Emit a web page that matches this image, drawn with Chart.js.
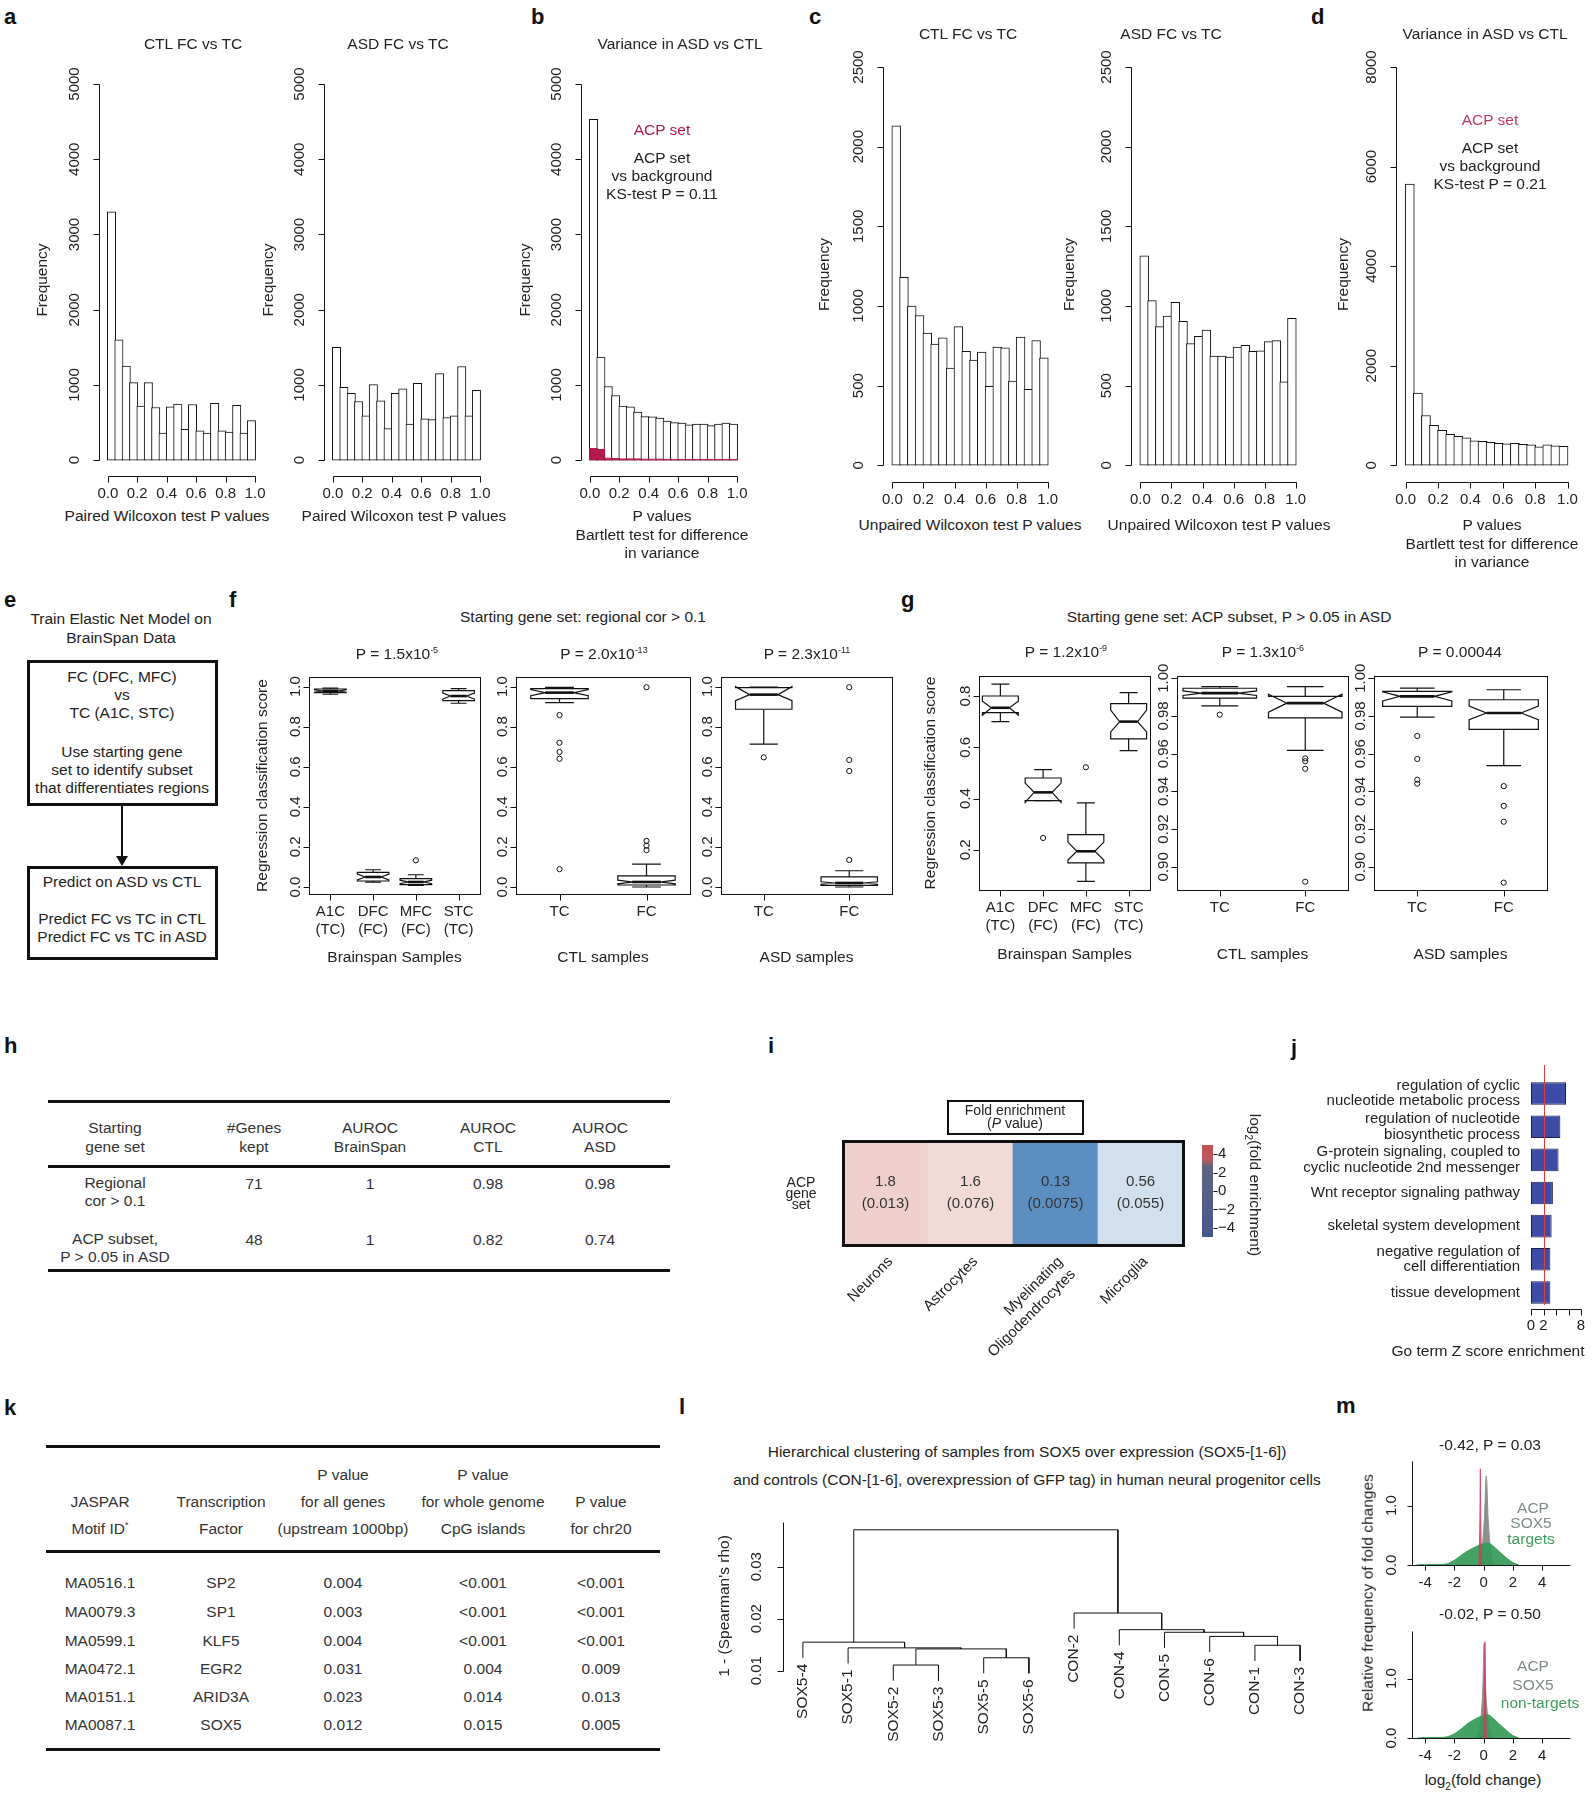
<!DOCTYPE html>
<html lang="en">
<head>
<meta charset="UTF-8">
<meta name="viewport" content="width=device-width, initial-scale=1.0">
<title>ACP gene set analyses</title>
<script src="https://cdn.jsdelivr.net/npm/chart.js"></script>
<style>
  body { margin: 0; background: #fff; }
  #fig { position: relative; width: 1596px; height: 1800px; overflow: hidden;
         font-family: "Liberation Sans", Arial, sans-serif; font-size: 15.5px; color: #222; }
  #fig canvas { position: absolute; }
  .t { position: absolute; white-space: nowrap; transform: translate(-50%, -50%); text-align: center; line-height: 1.2; }
  .lt { position: absolute; font-weight: bold; font-size: 22px; color: #111; transform: translateY(-50%); }
  .box { position: absolute; border: 3px solid #111; box-sizing: border-box; }
  .rule { position: absolute; background: #111; }
  sup { font-size: 9px; vertical-align: 6px; line-height: 0; }
</style>
</head>
<body>
<div id="fig"></div>
<script>
// ---------- values ----------
// a-d: P value histograms, 20 bins of width 0.05
const pBinMids = [0.025, 0.075, 0.125, 0.175, 0.225, 0.275, 0.325, 0.375, 0.425, 0.475,
                  0.525, 0.575, 0.625, 0.675, 0.725, 0.775, 0.825, 0.875, 0.925, 0.975];
const pTicks = [0, 0.2, 0.4, 0.6, 0.8, 1.0];
const aCtlCounts = [3300, 1600, 1250, 1030, 720, 1030, 700, 360, 710, 745, 410, 740, 390, 360, 755, 390, 375, 730, 360, 525];
const aAsdCounts = [1500, 970, 890, 780, 590, 1005, 790, 420, 890, 950, 480, 1020, 550, 540, 1150, 565, 590, 1245, 590, 930];
const bAllCounts = [4530, 1370, 980, 860, 720, 710, 640, 580, 575, 560, 520, 500, 495, 470, 480, 480, 460, 480, 495, 480];
const bAcpCounts = [158, 143, 30, 25, 22, 20, 20, 18, 18, 17, 16, 16, 15, 15, 15, 14, 14, 14, 14, 14];
const cCtlCounts = [2130, 1180, 1000, 940, 830, 760, 800, 610, 870, 715, 660, 710, 495, 742, 737, 528, 805, 477, 782, 675];
const cAsdCounts = [1315, 1034, 870, 937, 1023, 904, 764, 809, 848, 686, 686, 679, 742, 753, 715, 719, 776, 782, 524, 922];
const dAllCounts = [5650, 1450, 1000, 800, 700, 620, 580, 550, 490, 480, 460, 440, 430, 440, 420, 410, 370, 410, 390, 380];
const freqTicks5000 = [0, 1000, 2000, 3000, 4000, 5000];
const freqTicks2500 = [0, 500, 1000, 1500, 2000, 2500];
const freqTicks8000 = [0, 2000, 4000, 6000, 8000];

// f, g: box stats [lower whisker, Q1, notch low, median, notch high, Q3, upper whisker]
const brainGroups = [['A1C', '(TC)'], ['DFC', '(FC)'], ['MFC', '(FC)'], ['STC', '(TC)']];
const regionGroups = ['TC', 'FC'];
const fTicks = [0, 0.2, 0.4, 0.6, 0.8, 1.0];
const fBrainStats = [[0.962, 0.970, 0.972, 0.978, 0.984, 0.988, 0.992],
                     [0.024, 0.030, 0.035, 0.050, 0.065, 0.073, 0.086],
                     [0.008, 0.012, 0.016, 0.025, 0.034, 0.042, 0.061],
                     [0.917, 0.930, 0.938, 0.953, 0.968, 0.980, 0.990]];
const fBrainOut = [[3, 0.133]];
const fCtlStats = [[0.920, 0.940, 0.955, 0.970, 0.985, 0.990, 0.996],
                   [0.000, 0.010, 0.016, 0.025, 0.034, 0.055, 0.114]];
const fCtlOut = [[1, 0.858], [1, 0.72], [1, 0.674], [1, 0.64], [1, 0.089],
                 [2, 0.23], [2, 0.206], [2, 0.184], [2, 0.997]];
const fAsdStats = [[0.713, 0.887, 0.930, 0.960, 1.000, 0.995, 0.998],
                   [0.000, 0.008, 0.014, 0.020, 0.026, 0.050, 0.081]];
const fAsdOut = [[1, 0.647], [2, 0.135], [2, 0.634], [2, 0.579], [2, 0.997]];

const gBrainTicks = [0.2, 0.4, 0.6, 0.8];
const gSampleTicks = [0.90, 0.92, 0.94, 0.96, 0.98, 1.00];
const gBrainStats = [[0.700, 0.735, 0.725, 0.754, 0.780, 0.800, 0.846],
                     [0.392, 0.392, 0.385, 0.424, 0.460, 0.480, 0.513],
                     [0.077, 0.149, 0.160, 0.194, 0.230, 0.259, 0.383],
                     [0.587, 0.633, 0.660, 0.700, 0.745, 0.770, 0.813]];
const gBrainOut = [[2, 0.246], [3, 0.522]];
const gCtlStats = [[0.9854, 0.9895, 0.9909, 0.9921, 0.9933, 0.9947, 0.9956],
                   [0.9618, 0.9790, 0.9820, 0.9868, 0.9915, 0.9904, 0.9956]];
const gCtlOut = [[1, 0.9807], [2, 0.9575], [2, 0.956], [2, 0.952], [2, 0.8921]];
const gAsdStats = [[0.9794, 0.9851, 0.9880, 0.9904, 0.9928, 0.9930, 0.9948],
                   [0.9537, 0.9729, 0.9780, 0.9816, 0.9852, 0.9886, 0.9939]];
const gAsdOut = [[1, 0.9694], [1, 0.9572], [1, 0.9462], [1, 0.9441],
                 [2, 0.9428], [2, 0.9323], [2, 0.9239], [2, 0.8916]];

// h: classifier table
const hHeader = ['Starting<br>gene set', '#Genes<br>kept', 'AUROC<br>BrainSpan', 'AUROC<br>CTL', 'AUROC<br>ASD'];
const hRows = [['Regional<br>cor &gt; 0.1', '71', '1', '0.98', '0.98'],
               ['ACP subset,<br>P &gt; 0.05 in ASD', '48', '1', '0.82', '0.74']];

// i: cell type enrichment
const iCellTypes = ['Neurons', 'Astrocytes', ['Myelinating', 'Oligodendrocytes'], 'Microglia'];
const iFold = [1.8, 1.6, 0.13, 0.56];
const iPval = ['0.013', '0.076', '0.0075', '0.055'];
const iColorTicks = [-4, -2, 0, 2, 4];

// j: GO terms
const jTerms = [['regulation of cyclic', 'nucleotide metabolic process'],
                ['regulation of nucleotide', 'biosynthetic process'],
                ['G-protein signaling, coupled to', 'cyclic nucleotide 2nd messenger'],
                'Wnt receptor signaling pathway',
                'skeletal system development',
                ['negative regulation of', 'cell differentiation'],
                'tissue development'];
const jZ = [5.6, 4.7, 4.4, 3.5, 3.3, 3.1, 3.1];
const jTicks = [0, 2, 4, 6, 8];
const jTickLabels = ['0', '2', '', '', '8'];
const jThreshold = 2;

// k: motif table
const kMotifs = ['MA0516.1', 'MA0079.3', 'MA0599.1', 'MA0472.1', 'MA0151.1', 'MA0087.1'];
const kFactors = ['SP2', 'SP1', 'KLF5', 'EGR2', 'ARID3A', 'SOX5'];
const kPAllGenes = ['0.004', '0.003', '0.004', '0.031', '0.023', '0.012'];
const kPCpG = ['&lt;0.001', '&lt;0.001', '&lt;0.001', '0.004', '0.014', '0.015'];
const kPChr20 = ['&lt;0.001', '&lt;0.001', '&lt;0.001', '0.009', '0.013', '0.005'];

// l: dendrogram (leaves in display order; merge refs: -n = leaf n, +n = merge n)
const lLeaves = ['SOX5-4', 'SOX5-1', 'SOX5-2', 'SOX5-3', 'SOX5-5', 'SOX5-6',
                 'CON-2', 'CON-4', 'CON-5', 'CON-6', 'CON-1', 'CON-3'];
const lMerge = [[-3, -4, 0.0111], [-5, -6, 0.0125], [1, 2, 0.0142], [-2, 3, 0.0144], [-1, 4, 0.0155],
                [-11, -12, 0.0149], [-10, 6, 0.0166], [-9, 7, 0.0174], [-8, 8, 0.0179], [-7, 9, 0.0211],
                [5, 10, 0.0371]];
const lHang = 0.003;
const lTicks = [0.01, 0.02, 0.03];

// m: density of log2 fold changes [x, density]
const mTicksX = [-4, -2, 0, 2, 4];
const mTicksY = [0, 1];
const mTopGreen = [[-4.6, 0], [-4, 0.01], [-3, 0.01], [-2.5, 0.02], [-2, 0.08], [-1.5, 0.17], [-1, 0.25],
                   [-0.5, 0.31], [0, 0.36], [0.3, 0.37], [0.6, 0.33], [1, 0.24], [1.5, 0.13], [2, 0.04], [2.4, 0]];
const mTopGrey = [[-0.35, 0], [-0.1, 0.3], [0.05, 0.8], [0.18, 1.5], [0.3, 0.8], [0.45, 0.3], [0.7, 0]];
const mTopRed = [[-0.32, 0], [-0.26, 0.8], [-0.23, 1.62], [-0.2, 0.8], [-0.14, 0]];
const mBotGreen = [[-4.5, 0], [-4, 0.01], [-3, 0.01], [-2.5, 0.02], [-2, 0.07], [-1.5, 0.16], [-1, 0.26],
                   [-0.5, 0.33], [0, 0.38], [0.3, 0.39], [0.6, 0.34], [1, 0.25], [1.5, 0.14], [2, 0.04], [2.4, 0]];
const mBotGrey = [[-0.45, 0], [-0.2, 0.3], [-0.05, 0.9], [0.03, 1.59], [0.12, 0.9], [0.3, 0.3], [0.6, 0]];
const mBotRed = [[0.0, 0], [0.06, 0.8], [0.09, 1.62], [0.12, 0.8], [0.18, 0]];

// ---------- setup ----------
Chart.defaults.font.family = '"Liberation Sans", Arial, sans-serif';
Chart.defaults.font.size = 15;
Chart.defaults.color = '#222';
Chart.defaults.plugins.legend.display = false;
Chart.defaults.plugins.tooltip.enabled = false;

const fig = document.getElementById('fig');

function txt(x, y, html, css) {
  const d = document.createElement('div');
  d.className = 't';
  d.innerHTML = html;
  d.style.left = x + 'px';
  d.style.top = y + 'px';
  if (css) d.style.cssText += css;
  fig.appendChild(d);
  return d;
}
function letter(x, y, s) {
  const d = document.createElement('div');
  d.className = 'lt';
  d.textContent = s;
  d.style.left = x + 'px';
  d.style.top = y + 'px';
  fig.appendChild(d);
}
function rule(x, y, w, h) {
  const d = document.createElement('div');
  d.className = 'rule';
  d.style.cssText += `left:${x}px;top:${y}px;width:${w}px;height:${h}px`;
  fig.appendChild(d);
}
function boxDiv(x, y, w, h, bw) {
  const d = document.createElement('div');
  d.className = 'box';
  d.style.cssText += `left:${x}px;top:${y}px;width:${w}px;height:${h}px;border-width:${bw}px`;
  fig.appendChild(d);
}

// place a chart so that its plot region lands on area = [x0, y0, x1, y1]
function plotAt(area, m, config) {
  const [x0, y0, x1, y1] = area, [ml, mt, mr, mb] = m;
  const c = document.createElement('canvas');
  c.width = x1 - x0 + ml + mr;
  c.height = y1 - y0 + mt + mb;
  c.style.left = (x0 - ml) + 'px';
  c.style.top = (y0 - mt) + 'px';
  fig.appendChild(c);
  const o = config.options;
  const rightY = o.scales.y.position === 'right';
  o.responsive = false;
  o.animation = false;
  o.layout = { padding: { left: rightY ? ml : 0, top: mt, right: rightY ? 0 : mr, bottom: 0 } };
  o.scales.x.afterFit = s => { s.height = mb; };
  o.scales.y.afterFit = s => { s.width = rightY ? mr : ml; };
  return new Chart(c, config);
}

function axisTitle(title) {
  return title ? { display: true, text: title, padding: 4, font: { size: 15.5, lineHeight: 1.2 } }
               : { display: false };
}
function xAxis(min, max, ticks, fmt, title, pad) {
  return {
    type: 'linear', min, max, offset: false,
    afterBuildTicks: s => { s.ticks = ticks.map(value => ({ value })); },
    ticks: { callback: fmt, padding: pad, autoSkip: false, maxRotation: 0, minRotation: 0 },
    grid: { display: false, drawTicks: true, tickLength: 6 },
    border: { display: false },
    title: axisTitle(title)
  };
}
function yAxis(min, max, ticks, fmt, title, pad, flat) {
  return {
    type: 'linear', min, max,
    afterBuildTicks: s => { s.ticks = ticks.map(value => ({ value })); },
    ticks: flat
      ? { callback: fmt, padding: pad, autoSkip: false }
      : { callback: fmt, padding: pad, autoSkip: false, minRotation: 90, maxRotation: 90, crossAlign: 'center' },
    grid: { display: false, drawTicks: true, tickLength: flat ? 4 : 6 },
    border: { display: false },
    title: axisTitle(title)
  };
}

// R-like axes: line from first to last tick (or given range), ticks outward, optional frame
function rAxes(cfg) {
  return {
    id: 'rAxes',
    afterDatasetsDraw(chart) {
      const { ctx, chartArea: a } = chart;
      ctx.save();
      ctx.strokeStyle = '#111';
      if (cfg.frame) {
        ctx.lineWidth = cfg.frame;
        ctx.strokeRect(Math.round(a.left) + 0.5, Math.round(a.top) + 0.5,
                       Math.round(a.right - a.left), Math.round(a.bottom - a.top));
      }
      ctx.lineWidth = 1;
      for (const id of ['x', 'y']) {
        const s = chart.scales[id], r = cfg[id];
        if (!s || !r) continue;
        const tp = s.ticks.map((t, i) => Math.round(s.getPixelForTick(i)) + 0.5);
        const ends = Array.isArray(r) ? r.map(v => Math.round(s.getPixelForValue(v)) + 0.5)
                                      : [tp[0], tp[tp.length - 1]];
        const tl = cfg.tl || 6;
        ctx.beginPath();
        if (s.isHorizontal()) {
          const y = Math.round(a.bottom) + 0.5;
          if (r !== 'marks') { ctx.moveTo(ends[0], y); ctx.lineTo(ends[1], y); }
          tp.forEach(p => { ctx.moveTo(p, y); ctx.lineTo(p, y + tl); });
        } else {
          const right = s.position === 'right';
          const x = Math.round(right ? a.right : a.left) + 0.5, dir = right ? 1 : -1;
          if (r !== 'marks') { ctx.moveTo(x, ends[0]); ctx.lineTo(x, ends[1]); }
          tp.forEach(p => { ctx.moveTo(x, p); ctx.lineTo(x + dir * tl, p); });
        }
        ctx.stroke();
      }
      ctx.restore();
    }
  };
}

// ---------- a-d histograms ----------
function histogram(area, m, counts, overlay, yMax, yTicks) {
  const xMin = -0.06, xMax = 1.04;
  const binPx = (area[2] - area[0]) / (xMax - xMin) * 0.05;
  const bars = (vals, fill, line, order) => ({
    data: pBinMids.map((x, i) => ({ x, y: vals[i] })),
    backgroundColor: fill, borderColor: line, borderWidth: 1, borderSkipped: false,
    barThickness: binPx + 1, grouped: false, order
  });
  const ds = [bars(counts, '#fff', '#111', 2)];
  if (overlay) ds.push(bars(overlay, '#b3194a', '#b3194a', 1));
  return plotAt(area, m, {
    type: 'bar',
    data: { datasets: ds },
    options: {
      scales: {
        x: xAxis(xMin, xMax, pTicks, v => v.toFixed(1), null, 3),
        y: yAxis(-yMax * 0.042, yMax, yTicks, v => String(v), 'Frequency', 1)
      }
    },
    plugins: [rAxes({ x: 'ticks', y: 'ticks' })]
  });
}

histogram([99, 84, 261, 476], [70, 40, 16, 30], aCtlCounts, null, 5000, freqTicks5000);
histogram([324, 84, 486, 476], [69, 40, 16, 30], aAsdCounts, null, 5000, freqTicks5000);
histogram([581, 84, 743, 476], [69, 40, 16, 30], bAllCounts, bAcpCounts, 5000, freqTicks5000);
histogram([883, 67, 1054, 482], [72, 30, 16, 30], cCtlCounts, null, 2500, freqTicks2500);
histogram([1131, 67, 1302, 482], [75, 30, 16, 30], cAsdCounts, null, 2500, freqTicks2500);
histogram([1396, 67, 1574, 482], [66, 30, 16, 30], dAllCounts, null, 8000, freqTicks8000);

letter(4, 17, 'a'); letter(531, 17, 'b'); letter(809, 17, 'c'); letter(1311, 17, 'd');
txt(193, 44, 'CTL FC vs TC');
txt(398, 44, 'ASD FC vs TC');
txt(167, 516, 'Paired Wilcoxon test P values');
txt(404, 516, 'Paired Wilcoxon test P values');
txt(680, 44, 'Variance in ASD vs CTL');
txt(662, 130, 'ACP set', 'color:#b3194a');
txt(662, 176, 'ACP set<br>vs background<br>KS-test P = 0.11', 'line-height:18px');
txt(662, 535, 'P values<br>Bartlett test for difference<br>in variance', 'line-height:18.5px');
txt(968, 34, 'CTL FC vs TC');
txt(1171, 34, 'ASD FC vs TC');
txt(970, 525, 'Unpaired Wilcoxon test P values');
txt(1219, 525, 'Unpaired Wilcoxon test P values');
txt(1485, 34, 'Variance in ASD vs CTL');
txt(1490, 120, 'ACP set', 'color:#c43a5e');
txt(1490, 166, 'ACP set<br>vs background<br>KS-test P = 0.21', 'line-height:18px');
txt(1492, 544, 'P values<br>Bartlett test for difference<br>in variance', 'line-height:18.5px');

// ---------- e flowchart ----------
letter(4, 600, 'e');
txt(121, 628, 'Train Elastic Net Model on<br>BrainSpan Data', 'line-height:19px');
boxDiv(27, 660, 191, 146, 3);
txt(122, 695, 'FC (DFC, MFC)<br>vs<br>TC (A1C, STC)', 'line-height:18px');
txt(122, 770, 'Use starting gene<br>set to identify subset<br>that differentiates regions', 'line-height:18px');
rule(121, 806, 2, 52);
(() => {
  const d = document.createElement('div');
  d.style.cssText = 'position:absolute;left:116px;top:856px;width:0;height:0;border-left:6px solid transparent;border-right:6px solid transparent;border-top:10px solid #111';
  fig.appendChild(d);
})();
boxDiv(27, 866, 191, 94, 3);
txt(122, 882, 'Predict on ASD vs CTL');
txt(122, 928, 'Predict FC vs TC in CTL<br>Predict FC vs TC in ASD', 'line-height:18px');

// ---------- f, g boxplots ----------
function boxes(stats, half) {
  return {
    id: 'boxes',
    afterDatasetsDraw(chart) {
      const { ctx } = chart, xs = chart.scales.x, ys = chart.scales.y;
      const w = (xs.getPixelForValue(2) - xs.getPixelForValue(1)) * half;
      ctx.save();
      ctx.strokeStyle = '#111';
      stats.forEach((st, i) => {
        const [lo, q1, nlo, med, nhi, q3, hi] = st.map(v => ys.getPixelForValue(v));
        const cx = xs.getPixelForValue(i + 1);
        ctx.lineWidth = 1.2;
        ctx.beginPath();
        ctx.moveTo(cx, q3); ctx.lineTo(cx, hi);
        ctx.moveTo(cx - w / 2, hi); ctx.lineTo(cx + w / 2, hi);
        ctx.moveTo(cx, q1); ctx.lineTo(cx, lo);
        ctx.moveTo(cx - w / 2, lo); ctx.lineTo(cx + w / 2, lo);
        ctx.stroke();
        ctx.beginPath();
        ctx.moveTo(cx - w, q1); ctx.lineTo(cx - w, nlo); ctx.lineTo(cx - w / 2, med);
        ctx.lineTo(cx - w, nhi); ctx.lineTo(cx - w, q3); ctx.lineTo(cx + w, q3);
        ctx.lineTo(cx + w, nhi); ctx.lineTo(cx + w / 2, med); ctx.lineTo(cx + w, nlo);
        ctx.lineTo(cx + w, q1); ctx.closePath();
        ctx.fillStyle = '#fff';
        ctx.fill();
        ctx.stroke();
        ctx.lineWidth = 2.6;
        ctx.beginPath();
        ctx.moveTo(cx - w / 2, med); ctx.lineTo(cx + w / 2, med);
        ctx.stroke();
      });
      ctx.restore();
    }
  };
}
function boxChart(area, m, groups, stats, outliers, half, yMin, yMax, yTicks, yFmt, yPad, yTitle, xTitle) {
  const xTicks = groups.map((g, i) => i + 1);
  return plotAt(area, m, {
    type: 'scatter',
    data: { datasets: [{
      data: outliers.map(([g, v]) => ({ x: g, y: v })),
      pointRadius: 2.6, borderColor: '#111', borderWidth: 1, backgroundColor: 'rgba(0,0,0,0)'
    }] },
    options: { scales: {
      x: xAxis(0.5, groups.length + 0.5, xTicks, (v, i) => groups[i], xTitle, 3),
      y: yAxis(yMin, yMax, yTicks, yFmt, yTitle, yPad)
    } },
    plugins: [boxes(stats, half), rAxes({ frame: 1, x: 'ticks', y: 'ticks' })]
  });
}
const f1 = v => v.toFixed(1), f2 = v => v.toFixed(2);
boxChart([309, 677, 480, 894], [60, 20, 10, 77], brainGroups, fBrainStats, fBrainOut, 0.37,
         -0.035, 1.048, fTicks, f1, -3, 'Regression classification score', 'Brainspan Samples');
boxChart([516, 677, 690, 894], [32, 20, 10, 77], regionGroups, fCtlStats, fCtlOut, 0.33,
         -0.035, 1.048, fTicks, f1, -3, null, 'CTL samples');
boxChart([721, 677, 892, 894], [32, 20, 10, 77], regionGroups, fAsdStats, fAsdOut, 0.33,
         -0.035, 1.048, fTicks, f1, -3, null, 'ASD samples');
boxChart([979, 676, 1150, 890], [62, 20, 10, 78], brainGroups, gBrainStats, gBrainOut, 0.42,
         0.043, 0.878, gBrainTicks, f1, -3, 'Regression classification score', 'Brainspan Samples');
boxChart([1177, 676, 1348, 890], [36, 20, 10, 78], regionGroups, gCtlStats, gCtlOut, 0.43,
         0.8877, 1.0012, gSampleTicks, f2, -7, null, 'CTL samples');
boxChart([1374, 676, 1547, 890], [36, 20, 10, 78], regionGroups, gAsdStats, gAsdOut, 0.40,
         0.8877, 1.0012, gSampleTicks, f2, -7, null, 'ASD samples');

letter(229, 600, 'f'); letter(901, 600, 'g');
txt(583, 617, 'Starting gene set: regional cor &gt; 0.1');
txt(397, 654, 'P = 1.5x10<sup>-5</sup>');
txt(604, 654, 'P = 2.0x10<sup>-13</sup>');
txt(807, 654, 'P = 2.3x10<sup>-11</sup>');
txt(1229, 617, 'Starting gene set: ACP subset, P &gt; 0.05 in ASD');
txt(1066, 652, 'P = 1.2x10<sup>-9</sup>');
txt(1263, 652, 'P = 1.3x10<sup>-6</sup>');
txt(1460, 652, 'P = 0.00044');

// ---------- h table ----------
letter(4, 1046, 'h');
const hCols = [115, 254, 370, 488, 600];
rule(48, 1100, 622, 3); rule(48, 1165, 622, 3); rule(48, 1269, 622, 3);
hHeader.forEach((s, c) => txt(hCols[c], 1137, s, 'line-height:19px;color:#333'));
hRows.forEach((row, r) => row.forEach((s, c) =>
  txt(hCols[c], c === 0 ? [1192, 1248][r] : [1184, 1240][r], s, 'line-height:18px;color:#333')));

// ---------- i heatmap ----------
function mix(c0, c1, t) {
  return 'rgb(' + c0.map((v, k) => Math.round(v + (c1[k] - v) * t)).join(',') + ')';
}
function foldColor(l2) {
  const t = Math.max(-1, Math.min(1, l2 / 4));
  return t < 0 ? mix([255, 255, 255], [33, 102, 172], -t) : mix([255, 255, 255], [178, 34, 20], t);
}
const cellText = {
  id: 'cellText',
  afterDatasetsDraw(chart) {
    const { ctx, chartArea: a } = chart;
    const cy = (a.top + a.bottom) / 2;
    ctx.save();
    ctx.fillStyle = '#333';
    ctx.font = '15px "Liberation Sans", Arial, sans-serif';
    ctx.textAlign = 'center';
    ctx.textBaseline = 'middle';
    chart.getDatasetMeta(0).data.forEach((bar, i) => {
      ctx.fillText(String(iFold[i]), bar.x, cy - 11);
      ctx.fillText('(' + iPval[i] + ')', bar.x, cy + 11);
    });
    ctx.restore();
  }
};
plotAt([843, 1141, 1183, 1245], [70, 8, 8, 115], {
  type: 'bar',
  data: { labels: iCellTypes, datasets: [{
    data: iCellTypes.map(() => 1),
    backgroundColor: iFold.map(f => foldColor(Math.log2(f))),
    borderWidth: 0, barPercentage: 1, categoryPercentage: 1
  }] },
  options: { scales: {
    x: { type: 'category',
         ticks: { minRotation: 45, maxRotation: 45, padding: 8, labelOffset: 5, autoSkip: false },
         grid: { display: false, drawTicks: false }, border: { display: false } },
    y: { min: 0, max: 1, display: false }
  } },
  plugins: [cellText, rAxes({ frame: 3 })]
});
const cbStops = [[5, '#c4504c'], [3.4, '#b85a62'], [2.6, '#5e6581'], [0, '#566086'], [-5, '#47578c']];
plotAt([1202, 1145, 1213, 1237], [0, 12, 40, 12], {
  type: 'bar',
  data: { labels: [''], datasets: [{
    data: [[-5, 5]],
    backgroundColor: c => {
      const a = c.chart.chartArea;
      if (!a) return '#556';
      const g = c.chart.ctx.createLinearGradient(0, a.bottom, 0, a.top);
      cbStops.forEach(([v, col]) => g.addColorStop((v + 5) / 10, col));
      return g;
    },
    borderWidth: 0, barPercentage: 1, categoryPercentage: 1
  }] },
  options: { scales: {
    x: { display: false },
    y: Object.assign(yAxis(-5, 5, iColorTicks, v => (v < 0 ? '\u2212' + (-v) : String(v)), null, 1, true),
                     { position: 'right' })
  } },
  plugins: [rAxes({ y: 'marks', tl: 4 })]
});
txt(1253, 1185, 'log<sub style="font-size:10px">2</sub>(fold enrichment)', 'transform:translate(-50%,-50%) rotate(90deg)');
letter(768, 1046, 'i');
boxDiv(947, 1100, 137, 35, 2);
txt(1015, 1117, 'Fold enrichment<br>(<i>P</i> value)', 'line-height:13px;font-size:14px');
txt(801, 1193, 'ACP<br>gene<br>set', 'line-height:11px;font-size:14px');

// ---------- j GO terms ----------
const refLine = {
  id: 'refLine',
  afterDatasetsDraw(chart) {
    const { ctx, chartArea: a } = chart;
    const x = Math.round(chart.scales.x.getPixelForValue(jThreshold)) + 0.5;
    ctx.save();
    ctx.strokeStyle = '#e03a3a';
    ctx.lineWidth = 1;
    ctx.beginPath(); ctx.moveTo(x, a.top - 12); ctx.lineTo(x, a.bottom - 4); ctx.stroke();
    ctx.restore();
  }
};
plotAt([1525, 1077, 1590, 1309], [290, 20, 6, 30], {
  type: 'bar',
  data: { labels: jTerms, datasets: [{
    data: jZ, backgroundColor: '#3d4ca6', borderColor: '#1c1f4a', borderWidth: 1,
    borderSkipped: false, barPercentage: 0.68, categoryPercentage: 1
  }] },
  options: { indexAxis: 'y', scales: {
    x: xAxis(-0.96, 9.44, jTicks, (v, i) => jTickLabels[i], null, 2),
    y: { type: 'category', ticks: { padding: 5, autoSkip: false, font: { size: 15, lineHeight: 1.03 } },
         grid: { display: false, drawTicks: false }, border: { display: false } }
  } },
  plugins: [refLine, rAxes({ x: [0, 8] })]
});
letter(1291, 1048, 'j');
txt(1488, 1351, 'Go term Z score enrichment');

// ---------- k table ----------
letter(4, 1408, 'k');
const kCols = [100, 221, 343, 483, 601];
rule(46, 1445, 614, 3); rule(46, 1550, 614, 3); rule(46, 1748, 614, 3);
txt(kCols[0], 1515, 'JASPAR<br>Motif ID<sup>*</sup>', 'line-height:27px;color:#333');
txt(kCols[1], 1515, 'Transcription<br>Factor', 'line-height:27px;color:#333');
txt(kCols[2], 1501, 'P value<br>for all genes<br>(upstream 1000bp)', 'line-height:27px;color:#333');
txt(kCols[3], 1501, 'P value<br>for whole genome<br>CpG islands', 'line-height:27px;color:#333');
txt(kCols[4], 1515, 'P value<br>for chr20', 'line-height:27px;color:#333');
const kRowY = [1583, 1612, 1641, 1669, 1697, 1725];
[kMotifs, kFactors, kPAllGenes, kPCpG, kPChr20].forEach((col, c) =>
  col.forEach((s, r) => txt(kCols[c], kRowY[r], s, 'color:#333')));

// ---------- l dendrogram ----------
const nodeX = [], nodeH = [], leafBottom = [], lPts = [];
lMerge.forEach(([p, q, h], k) => {
  const side = id => {
    if (id < 0) { leafBottom[-id - 1] = h - lHang; return [-id, h - lHang]; }
    return [nodeX[id - 1], nodeH[id - 1]];
  };
  const [xa, ya] = side(p), [xb, yb] = side(q);
  lPts.push({ x: xa, y: ya }, { x: xa, y: h }, { x: xb, y: h }, { x: xb, y: yb }, { x: xb, y: null });
  nodeX[k] = (xa + xb) / 2;
  nodeH[k] = h;
});
const leafLabels = {
  id: 'leafLabels',
  afterDatasetsDraw(chart) {
    const { ctx } = chart, xs = chart.scales.x, ys = chart.scales.y;
    ctx.save();
    ctx.fillStyle = '#222';
    ctx.font = '15.5px "Liberation Sans", Arial, sans-serif';
    ctx.textAlign = 'right';
    ctx.textBaseline = 'middle';
    lLeaves.forEach((name, i) => {
      ctx.save();
      ctx.translate(xs.getPixelForValue(i + 1), ys.getPixelForValue(leafBottom[i]) + 6);
      ctx.rotate(-Math.PI / 2);
      ctx.fillText(name, 0, 0);
      ctx.restore();
    });
    ctx.restore();
  }
};
plotAt([783, 1517, 1320, 1690], [72, 10, 10, 75], {
  type: 'scatter',
  data: { datasets: [{ data: lPts, showLine: true, borderColor: '#111', borderWidth: 1, pointRadius: 0, spanGaps: false }] },
  options: { scales: {
    x: { type: 'linear', min: 0.56, max: 12.44, display: false },
    y: yAxis(0.0063, 0.0386, lTicks, v => v.toFixed(2), "1 - (Spearman's rho)", 6)
  } },
  plugins: [leafLabels, rAxes({ y: [0.01, 0.0386] })]
});
letter(679, 1407, 'l');
txt(1027, 1452, 'Hierarchical clustering of samples from SOX5 over expression (SOX5-[1-6])');
txt(1027, 1480, 'and controls (CON-[1-6], overexpression of GFP tag) in human neural progenitor cells');

// ---------- m densities ----------
function densityChart(area, m, red, green, grey, yMax) {
  const ds = (pts, col) => ({
    data: pts.map(([x, y]) => ({ x, y })), showLine: true, fill: 'origin',
    backgroundColor: col, borderColor: col, borderWidth: 1, pointRadius: 0,
    cubicInterpolationMode: 'monotone'
  });
  return plotAt(area, m, {
    type: 'scatter',
    data: { datasets: [ds(red, 'rgba(214,58,92,0.8)'), ds(green, 'rgba(52,154,88,0.92)'), ds(grey, '#8e8e8e')] },
    options: { scales: {
      x: xAxis(-4.9, 5.9, mTicksX, v => String(v), null, 3),
      y: yAxis(0, yMax, mTicksY, v => v.toFixed(1), null, 4)
    } },
    plugins: [rAxes({ x: [-4.9, 5.9], y: [0, yMax], tl: 5 })]
  });
}
densityChart([1412, 1460, 1570, 1565], [40, 12, 22, 30], mTopRed, mTopGreen, mTopGrey, 1.75);
densityChart([1412, 1630, 1570, 1738], [40, 12, 22, 30], mBotRed, mBotGreen, mBotGrey, 1.8);
letter(1336, 1406, 'm');
txt(1490, 1445, '-0.42, P = 0.03');
txt(1490, 1614, '-0.02, P = 0.50');
txt(1533, 1508, 'ACP', 'color:#7d8a82');
txt(1531, 1523, 'SOX5', 'color:#7d8a82');
txt(1531, 1539, 'targets', 'color:#3d9c5e');
txt(1533, 1666, 'ACP', 'color:#7d8a82');
txt(1533, 1685, 'SOX5', 'color:#7d8a82');
txt(1540, 1703, 'non-targets', 'color:#3d9c5e');
txt(1483, 1782, 'log<sub style="font-size:10px">2</sub>(fold change)');
txt(1368, 1593, 'Relative frequency of fold changes', 'transform:translate(-50%,-50%) rotate(-90deg)');
</script>
</body>
</html>
